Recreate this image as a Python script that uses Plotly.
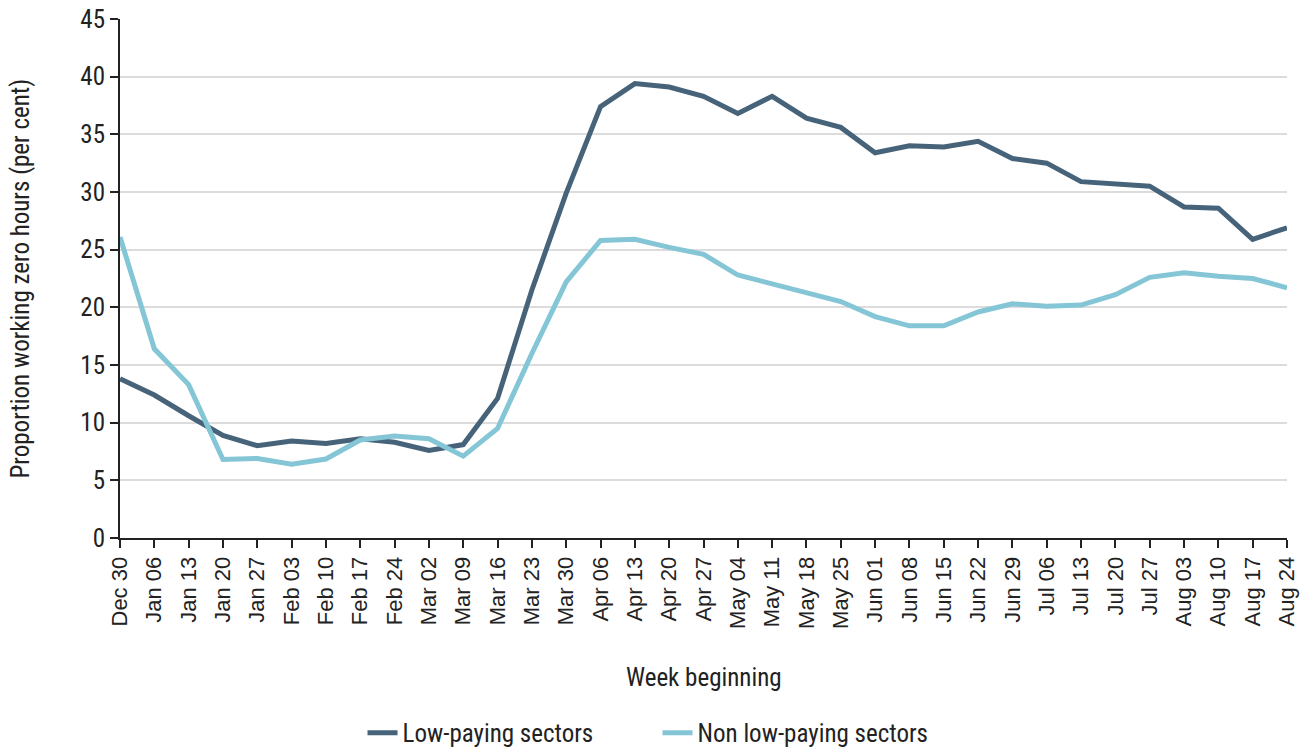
import plotly.graph_objects as go

weeks = ["Dec 30", "Jan 06", "Jan 13", "Jan 20", "Jan 27", "Feb 03", "Feb 10", "Feb 17",
         "Feb 24", "Mar 02", "Mar 09", "Mar 16", "Mar 23", "Mar 30", "Apr 06", "Apr 13",
         "Apr 20", "Apr 27", "May 04", "May 11", "May 18", "May 25", "Jun 01", "Jun 08",
         "Jun 15", "Jun 22", "Jun 29", "Jul 06", "Jul 13", "Jul 20", "Jul 27", "Aug 03",
         "Aug 10", "Aug 17", "Aug 24"]

low_paying = [13.8, 12.4, 10.6, 8.9, 8.0, 8.4, 8.2, 8.6, 8.3, 7.6, 8.1, 12.1, 21.5, 29.9,
              37.4, 39.4, 39.1, 38.3, 36.8, 38.3, 36.4, 35.6, 33.4, 34.0, 33.9, 34.4, 32.9,
              32.5, 30.9, 30.7, 30.5, 28.7, 28.6, 25.9, 26.9]

non_low_paying = [26.1, 16.4, 13.3, 6.8, 6.9, 6.4, 6.85, 8.5, 8.85, 8.6, 7.1, 9.5, 16.0, 22.2,
                  25.8, 25.9, 25.2, 24.6, 22.8, 22.0, 21.2, 20.5, 19.2, 18.4, 18.4, 19.6, 20.3,
                  20.1, 20.2, 21.1, 22.6, 23.0, 22.7, 22.5, 21.7]

y_ticks = [0, 5, 10, 15, 20, 25, 30, 35, 40, 45]

DARK = "#46637a"
LIGHT = "#84c6d6"
NARROW = "Liberation Sans Narrow, Roboto Condensed, Arial Narrow, Roboto, sans-serif"
TEXT = "#222222"

fig = go.Figure()
fig.add_trace(go.Scatter(x=weeks, y=low_paying, mode="lines", name="Low-paying sectors",
                         line=dict(color=DARK, width=5)))
fig.add_trace(go.Scatter(x=weeks, y=non_low_paying, mode="lines", name="Non low-paying sectors",
                         line=dict(color=LIGHT, width=5)))

fig.update_layout(
    width=1315, height=751,
    margin=dict(l=120, r=28, t=19, b=213),
    plot_bgcolor="white", paper_bgcolor="white",
    font=dict(family=NARROW, color=TEXT, size=25),
    showlegend=True,
    legend=dict(orientation="h", xref="container", yref="container",
                x=0.5, xanchor="center", y=0.024, yanchor="middle",
                font=dict(family=NARROW, size=25, color=TEXT),
                entrywidth=250, tracegroupgap=0),
    xaxis=dict(
        type="category", range=[0, 34], automargin=False,
        showgrid=False, showline=True, linecolor=TEXT, linewidth=2,
        ticks="outside", ticklen=8, tickwidth=2, tickcolor=TEXT,
        tickangle=-90, tickfont=dict(family="Liberation Sans, Arial, sans-serif",
                                     size=22, color=TEXT),
        zeroline=False,
    ),
    yaxis=dict(
        range=[0, 45], tickvals=y_ticks, automargin=False,
        showgrid=True, gridcolor="#dcdcdc", gridwidth=2,
        showline=True, linecolor=TEXT, linewidth=2,
        ticks="outside", ticklen=8, tickwidth=2, tickcolor=TEXT,
        tickfont=dict(family=NARROW, size=25, color=TEXT),
        zeroline=False,
    ),
    annotations=[
        dict(text="Week beginning", xref="paper", yref="paper", x=0.5, y=0,
             yshift=-139, showarrow=False, xanchor="center", yanchor="middle",
             font=dict(family=NARROW, size=25, color=TEXT)),
        dict(text="Proportion working zero hours (per cent)", xref="paper", yref="paper",
             x=0, y=0.5, xshift=-100, textangle=-90, showarrow=False,
             xanchor="center", yanchor="middle",
             font=dict(family=NARROW, size=25, color=TEXT)),
    ],
)

fig.write_html("out.html")
